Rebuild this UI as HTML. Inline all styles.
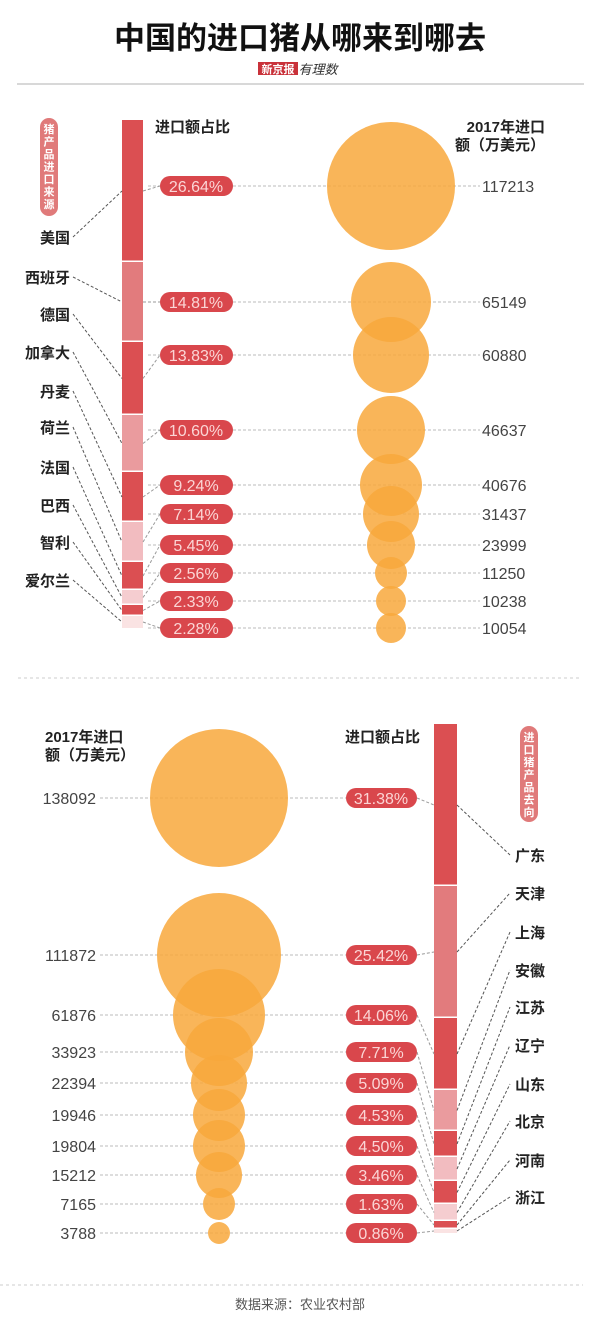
<!DOCTYPE html>
<html><head><meta charset="utf-8">
<style>
html,body{margin:0;padding:0;background:#fff;}
svg text{font-family:"Liberation Sans","Noto Sans CJK SC",sans-serif;}
</style></head>
<body>
<svg id="s" width="600" height="1334" viewBox="0 0 600 1334" xmlns="http://www.w3.org/2000/svg">
<rect width="600" height="1334" fill="#fff"/>
<text x="300" y="49" text-anchor="middle" font-size="31" font-weight="bold" fill="#111">中国的进口猪从哪来到哪去</text>
<rect x="258" y="62" width="40" height="13" fill="#c9323a"/>
<text x="278" y="73" text-anchor="middle" font-size="11" font-weight="bold" fill="#fff">新京报</text>
<text x="318" y="74" text-anchor="middle" font-size="13" font-style="italic" fill="#333">有理数</text>
<line x1="17" y1="84" x2="584" y2="84" stroke="#ccc" stroke-width="1.5"/>
<line x1="18" y1="678" x2="582" y2="678" stroke="#ccc" stroke-dasharray="3,3"/>
<line x1="0" y1="1285" x2="583" y2="1285" stroke="#ccc" stroke-dasharray="3,3"/>
<text x="300" y="1309" text-anchor="middle" font-size="13" fill="#555">数据来源：农业农村部</text>
<g id="g"></g>
</svg>
<script>
var g=document.getElementById('g'),h='';
function R(x,y,w,hh,f,extra){h+='<rect x="'+x+'" y="'+y+'" width="'+w+'" height="'+hh+'" fill="'+f+'" '+(extra||'')+'/>';}
function T(x,y,t,s,f,a,b){h+='<text x="'+x+'" y="'+y+'" font-size="'+s+'" fill="'+f+'" text-anchor="'+(a||'start')+'"'+(b?' font-weight="bold"':'')+'>'+t+'</text>';}
function L(x1,y1,x2,y2,c){h+='<line x1="'+x1+'" y1="'+y1+'" x2="'+x2+'" y2="'+y2+'" stroke="'+(c||'#888')+'" stroke-width="1" stroke-dasharray="3,2"/>';}
var D='#db4f52',cols=[D,'#e27b7d',D,'#ea9b9e',D,'#f2bcc0',D,'#f5cdd0',D,'#fae3e3'];
var seg=[120,262,342,415,472,522,562,590,605,616,628];
var py=[186,302,355,430,485,514,545,573,601,628];
var pv=['26.64%','14.81%','13.83%','10.60%','9.24%','7.14%','5.45%','2.56%','2.33%','2.28%'];
var nv=['117213','65149','60880','46637','40676','31437','23999','11250','10238','10054'];
var rr=[64,40,38,34,31,28,24,16,15,15];
var cn=['美国','西班牙','德国','加拿大','丹麦','荷兰','法国','巴西','智利','爱尔兰'];
var cy=[243,283,320,358,397,433,473,511,548,586];
for(var i=0;i<10;i++){L(148,py[i],480,py[i],'#bbb');}
for(var i=0;i<10;i++){h+='<circle cx="391" cy="'+py[i]+'" r="'+rr[i]+'" fill="#f8a83c" fill-opacity="0.85"/>';}
for(var i=0;i<10;i++){
 R(122,seg[i],21,seg[i+1]-seg[i]-(i<9?1.5:0),cols[i]);
 var m=(seg[i]+seg[i+1])/2;
 L(143,m,160,py[i],'#999');
 h+='<rect x="160" y="'+(py[i]-10)+'" width="73" height="20" rx="10" fill="#d9474c"/>';
 T(196,py[i]+6,pv[i],16,'#fbd5d5','middle');
 T(482,py[i]+6,nv[i],16,'#444');
 T(70,cy[i],cn[i],15,'#222','end',1);
 L(73,cy[i]-6,122,m,'#555');
}
h+='<rect x="40" y="118" width="18" height="98" rx="9" fill="#e07a7a"/>';
var v='猪产品进口来源';for(var k=0;k<v.length;k++)T(49,133+k*12.5,v[k],11,'#fff','middle',1);
T(155,132,'进口额占比',15,'#222','start',1);
T(545,132,'2017年进口',15,'#222','end',1);
T(545,150,'额（万美元）',15,'#222','end',1);
var s2=[724,886,1018,1090,1131,1157,1181,1204,1221,1229,1233];
var p2=[798,955,1015,1052,1083,1115,1146,1175,1204,1233];
var v2=['31.38%','25.42%','14.06%','7.71%','5.09%','4.53%','4.50%','3.46%','1.63%','0.86%'];
var n2=['138092','111872','61876','33923','22394','19946','19804','15212','7165','3788'];
var r2=[69,62,46,34,28,26,26,23,16,11];
var pn=['广东','天津','上海','安徽','江苏','辽宁','山东','北京','河南','浙江'];
var y2=[855,893,932,970,1007,1045,1084,1121,1160,1197];
for(var i=0;i<10;i++)L(100,p2[i],346,p2[i],'#bbb');
for(var i=0;i<10;i++)h+='<circle cx="219" cy="'+p2[i]+'" r="'+r2[i]+'" fill="#f8a83c" fill-opacity="0.85"/>';
for(var i=0;i<10;i++){
 R(434,s2[i],23,s2[i+1]-s2[i]-(i<9?1.5:0),cols[i]);
 var m=(s2[i]+s2[i+1])/2;
 L(417,p2[i],434,m,'#999');
 h+='<rect x="346" y="'+(p2[i]-10)+'" width="71" height="20" rx="10" fill="#d9474c"/>';
 T(381,p2[i]+6,v2[i],16,'#fbd5d5','middle');
 T(96,p2[i]+6,n2[i],16,'#444','end');
 T(515,y2[i]+6,pn[i],15,'#222','start',1);
 L(457,m,510,y2[i],'#555');
}
h+='<rect x="520" y="726" width="18" height="96" rx="9" fill="#e07a7a"/>';
v='进口猪产品去向';for(var k=0;k<v.length;k++)T(529,741+k*12.5,v[k],11,'#fff','middle',1);
T(45,742,'2017年进口',15,'#222','start',1);
T(45,760,'额（万美元）',15,'#222','start',1);
T(345,742,'进口额占比',15,'#222','start',1);
g.innerHTML=h;
</script>
</body></html>
